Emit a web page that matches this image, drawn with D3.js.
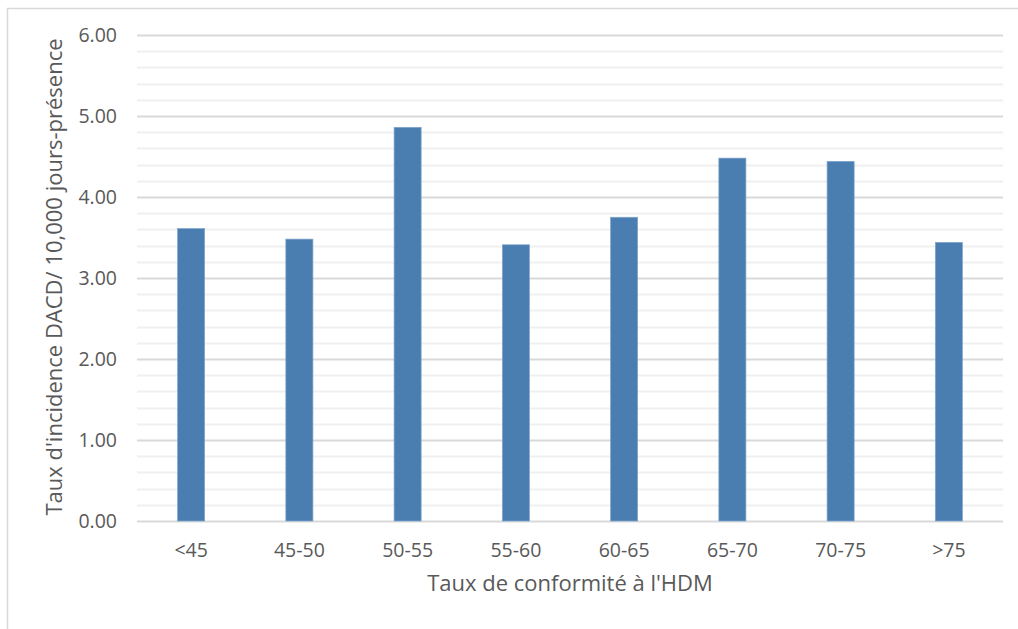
<!DOCTYPE html>
<html><head><meta charset="utf-8">
<script src="https://cdn.jsdelivr.net/npm/d3@7"></script>
<style>
html,body{margin:0;padding:0;background:#fff;}
svg{display:block;}
text{font-family:"Open Sans",sans-serif;fill:#595959;}
</style></head>
<body>
<svg id="c" width="1018" height="629"></svg>
<script>
const categories = ["<45","45-50","50-55","55-60","60-65","65-70","70-75",">75"];
const values = [3.61, 3.48, 4.86, 3.41, 3.75, 4.48, 4.44, 3.44];
const majorTicks = [0,1,2,3,4,5,6];
const xTitle = "Taux de conformité à l'HDM";
const yTitle = "Taux d'incidence DACD/ 10,000 jours-présence";

const svg = d3.select("#c");
// outer frame
svg.append("rect").attr("x",7.5).attr("y",8.5).attr("width",1030).attr("height",640)
  .attr("fill","none").attr("stroke","#d9d9d9").attr("stroke-width",1.5);

const m = {left:137, right:1003, top:35, bottom:521};
const x = d3.scaleBand().domain(categories).range([m.left,m.right]).paddingInner(0.75).paddingOuter(0.375);
const y = d3.scaleLinear().domain([0,6]).range([m.bottom,m.top]);

// minor gridlines
const minor = d3.range(0,6.01,0.2).filter(v=>Math.abs(v-Math.round(v))>1e-6);
svg.append("g").selectAll("line").data(minor).join("line")
  .attr("x1",m.left).attr("x2",m.right)
  .attr("y1",d=>Math.round(y(d))+0.5).attr("y2",d=>Math.round(y(d))+0.5)
  .attr("stroke","#f0f0f0").attr("stroke-width",2);
// major gridlines
svg.append("g").selectAll("line").data(majorTicks).join("line")
  .attr("x1",m.left).attr("x2",m.right)
  .attr("y1",d=>Math.round(y(d))+0.5).attr("y2",d=>Math.round(y(d))+0.5)
  .attr("stroke","#d9d9d9").attr("stroke-width",2);

// y axis labels
const yAxis = d3.axisLeft(y).tickValues(majorTicks).tickFormat(d3.format(".2f")).tickSize(0).tickPadding(0);
const ga = svg.append("g").attr("transform",`translate(${117},0)`).call(yAxis);
ga.select(".domain").remove();
ga.selectAll("text").style("font-size","19.5px").style("font-family","'Open Sans',sans-serif").attr("fill","#595959").attr("dy","0.35em");

// bars
svg.append("g").selectAll("rect").data(values).join("rect")
  .attr("x",(d,i)=>x(categories[i]))
  .attr("width",x.bandwidth())
  .attr("y",d=>y(d))
  .attr("height",d=>y(0)-y(d))
  .attr("fill","#4a7eb0").attr("stroke","#7fa5cc").attr("stroke-width",0.7);

// x axis labels
const xAxis = d3.axisBottom(x).tickSize(0).tickPadding(0);
const gx = svg.append("g").attr("transform",`translate(0,${550})`).call(xAxis);
gx.select(".domain").remove();
gx.selectAll("text").style("font-size","19.5px").style("font-family","'Open Sans',sans-serif").attr("fill","#595959").attr("dy","0.35em");

// titles
svg.append("text").attr("x",570).attr("y",585).attr("text-anchor","middle")
  .attr("dominant-baseline","middle").style("font-size","22px").text(xTitle);
svg.append("text").attr("transform","translate(56,277) rotate(-90)").attr("text-anchor","middle")
  .attr("dominant-baseline","middle").style("font-size","22px").text(yTitle);
</script>
</body></html>
